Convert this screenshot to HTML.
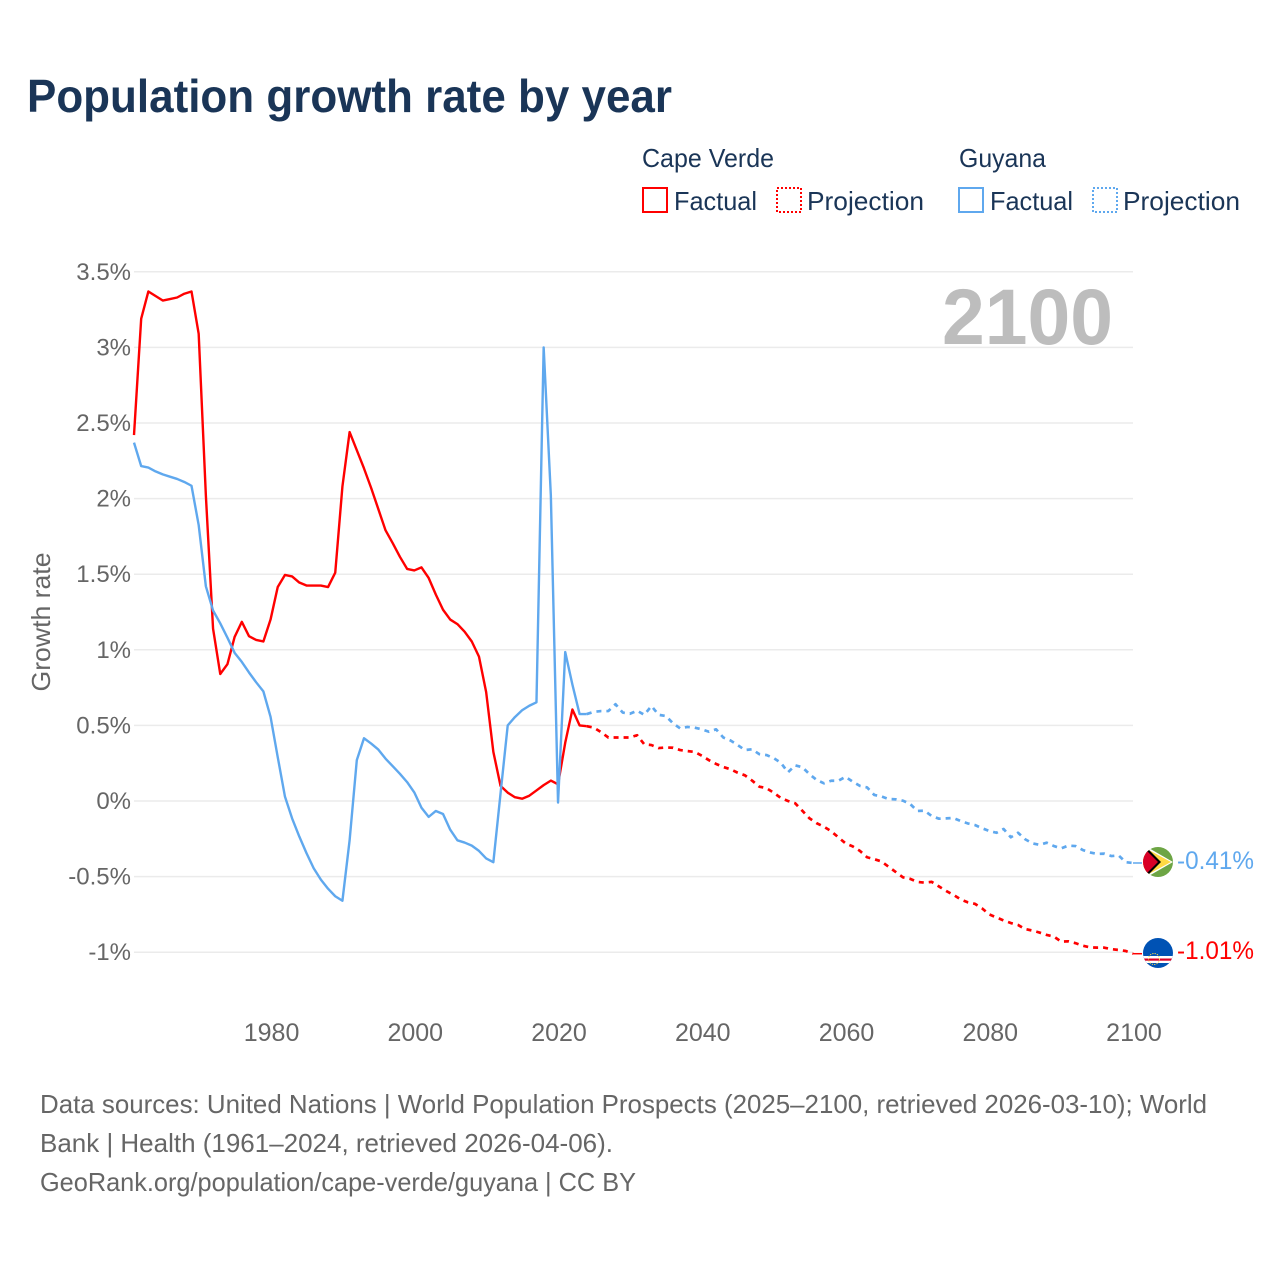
<!DOCTYPE html>
<html lang="en">
<head>
<meta charset="utf-8">
<title>Population growth rate by year</title>
<style>
  html, body { margin: 0; padding: 0; background: #ffffff; }
  svg { display: block; font-family: "Liberation Sans", sans-serif; }
</style>
</head>
<body>
<svg id="chart" xmlns="http://www.w3.org/2000/svg" width="1280" height="1280" viewBox="0 0 1280 1280">
  <defs>
    <clipPath id="clip-guyana"><circle cx="1158" cy="862" r="15"/></clipPath>
    <clipPath id="clip-cape"><circle cx="1158" cy="953" r="15"/></clipPath>
  </defs>
  <rect x="0" y="0" width="1280" height="1280" fill="#ffffff"/>

  <text x="27" y="112" font-size="46" font-weight="700" fill="#1a3557" textLength="645" lengthAdjust="spacingAndGlyphs">Population growth rate by year</text>

  <g font-size="26" fill="#1a3557">
    <text x="642" y="167" textLength="132" lengthAdjust="spacingAndGlyphs">Cape Verde</text>
    <rect x="643" y="188" width="24" height="24" fill="none" stroke="#ff0000" stroke-width="2"/>
    <text x="674" y="210" textLength="83" lengthAdjust="spacingAndGlyphs">Factual</text>
    <rect x="777" y="188" width="24" height="24" fill="none" stroke="#ff0000" stroke-width="2" stroke-dasharray="2 2"/>
    <text x="807" y="210" textLength="117" lengthAdjust="spacingAndGlyphs">Projection</text>

    <text x="959" y="167" textLength="87" lengthAdjust="spacingAndGlyphs">Guyana</text>
    <rect x="959" y="188" width="24" height="24" fill="none" stroke="#5fa8ee" stroke-width="2"/>
    <text x="990" y="210" textLength="83" lengthAdjust="spacingAndGlyphs">Factual</text>
    <rect x="1093" y="188" width="24" height="24" fill="none" stroke="#5fa8ee" stroke-width="2" stroke-dasharray="2 2"/>
    <text x="1123" y="210" textLength="117" lengthAdjust="spacingAndGlyphs">Projection</text>
  </g>

  <g id="grid"></g>
  <g id="y-ticks"></g>
  <g id="x-ticks"></g>

  <text transform="translate(50 622) rotate(-90)" text-anchor="middle" font-size="26" fill="#666666" textLength="139" lengthAdjust="spacingAndGlyphs">Growth rate</text>

  <text x="942" y="344" font-size="79" font-weight="700" fill="#bdbdbd" textLength="171" lengthAdjust="spacingAndGlyphs">2100</text>

  <g id="series"></g>

  <g clip-path="url(#clip-guyana)">
    <rect x="1143" y="847" width="30" height="30" fill="#6da544"/>
    <polygon points="1147,847 1173,862 1147,877" fill="#ffffff"/>
    <polygon points="1147,849 1171,862 1147,875 1143,875 1143,849" fill="#ffda44"/>
    <polygon points="1146,850 1149,850 1161,862 1149,874 1146,874" fill="#000000"/>
    <polygon points="1143,850 1147,851 1158,862 1147,873 1143,874" fill="#d80027"/>
  </g>
  <text x="1177" y="869" font-size="25" fill="#5fa8ee" textLength="77" lengthAdjust="spacingAndGlyphs">-0.41%</text>

  <g clip-path="url(#clip-cape)">
    <rect x="1143" y="938" width="30" height="30" fill="#0052b4"/>
    <rect x="1143" y="956" width="30" height="7" fill="#ffffff"/>
    <rect x="1143" y="958.5" width="30" height="2.2" fill="#d80027"/>
    <circle cx="1154" cy="959" r="5.5" fill="none" stroke="#ffda44" stroke-width="1" stroke-dasharray="1.2 1.2"/>
  </g>
  <text x="1177" y="959" font-size="25" fill="#ff0000" textLength="77" lengthAdjust="spacingAndGlyphs">-1.01%</text>

  <g font-size="26" fill="#666666">
    <text x="40" y="1113" textLength="1167" lengthAdjust="spacingAndGlyphs">Data sources: United Nations | World Population Prospects (2025–2100, retrieved 2026-03-10); World</text>
    <text x="40" y="1152" textLength="573" lengthAdjust="spacingAndGlyphs">Bank | Health (1961–2024, retrieved 2026-04-06).</text>
    <text x="40" y="1191" textLength="596" lengthAdjust="spacingAndGlyphs">GeoRank.org/population/cape-verde/guyana | CC BY</text>
  </g>
</svg>

<script>
const factualStartYear = 1961;
const projectionStartYear = 2025;
const xTickYears = [1980, 2000, 2020, 2040, 2060, 2080, 2100];
const yTickValues = [3.5, 3, 2.5, 2, 1.5, 1, 0.5, 0, -0.5, -1];
const yTickLabels = ["3.5%", "3%", "2.5%", "2%", "1.5%", "1%", "0.5%", "0%", "-0.5%", "-1%"];

const capeVerdeFactual = [
  2.42, 3.19, 3.37, 3.34, 3.31, 3.32, 3.33, 3.355, 3.37, 3.09,
  2.02, 1.14, 0.84, 0.905, 1.085, 1.185, 1.09, 1.065, 1.055, 1.2,
  1.415, 1.495, 1.485, 1.445, 1.425, 1.425, 1.425, 1.415, 1.51, 2.08,
  2.44, 2.32, 2.2, 2.07, 1.93, 1.79, 1.705, 1.615, 1.535, 1.525,
  1.545, 1.475, 1.365, 1.265, 1.2, 1.17, 1.12, 1.055, 0.955, 0.72,
  0.325, 0.1, 0.055, 0.025, 0.015, 0.035, 0.07, 0.105, 0.135, 0.11,
  0.385, 0.605, 0.5, 0.495
];
const capeVerdeProjection = [
  0.485, 0.455, 0.42, 0.42, 0.42, 0.42, 0.435, 0.375, 0.37, 0.35,
  0.354, 0.352, 0.337, 0.33, 0.325, 0.3, 0.27, 0.245, 0.225, 0.21,
  0.187, 0.17, 0.135, 0.095, 0.085, 0.055, 0.02, 0, -0.015, -0.065,
  -0.115, -0.147, -0.17, -0.2, -0.24, -0.28, -0.3, -0.33, -0.372, -0.385,
  -0.4, -0.435, -0.47, -0.505, -0.515, -0.535, -0.54, -0.535, -0.565, -0.595,
  -0.62, -0.65, -0.67, -0.68, -0.71, -0.75, -0.77, -0.79, -0.807, -0.82,
  -0.847, -0.857, -0.87, -0.886, -0.897, -0.93, -0.928, -0.94, -0.957, -0.968,
  -0.97, -0.97, -0.98, -0.985, -0.992, -1.01
];
const guyanaFactual = [
  2.37, 2.215, 2.205, 2.18, 2.16, 2.145, 2.13, 2.11, 2.085, 1.825,
  1.42, 1.26, 1.175, 1.08, 0.98, 0.92, 0.85, 0.785, 0.725, 0.557,
  0.29, 0.03, -0.115, -0.235, -0.345, -0.445, -0.52, -0.58, -0.63, -0.66,
  -0.26, 0.27, 0.415, 0.38, 0.34, 0.28, 0.23, 0.18, 0.125, 0.057,
  -0.045, -0.105, -0.066, -0.086, -0.19, -0.26, -0.275, -0.295, -0.33, -0.38,
  -0.405, 0.05, 0.5, 0.555, 0.6, 0.63, 0.653, 3.0, 2.02, -0.01,
  0.985, 0.77, 0.575, 0.575
];
const guyanaProjection = [
  0.59, 0.595, 0.595, 0.64, 0.585, 0.577, 0.597, 0.57, 0.628, 0.57,
  0.562, 0.514, 0.48, 0.49, 0.485, 0.474, 0.458, 0.474, 0.42, 0.4,
  0.37, 0.337, 0.342, 0.31, 0.304, 0.284, 0.253, 0.19, 0.236, 0.223,
  0.177, 0.139, 0.117, 0.134, 0.134, 0.16, 0.128, 0.1, 0.09, 0.04,
  0.03, 0.013, 0.011, 0.002, -0.02, -0.066, -0.064, -0.1, -0.117, -0.115,
  -0.112, -0.132, -0.148, -0.159, -0.18, -0.198, -0.21, -0.185, -0.24, -0.21,
  -0.253, -0.28, -0.29, -0.276, -0.298, -0.313, -0.295, -0.298, -0.324, -0.34,
  -0.35, -0.348, -0.364, -0.36, -0.405, -0.41
];

function xScale(year) { return 134 + (year - 1961) * 7.187; }
function yScale(value) { return 801 - value * 151.2; }

const SVG_NS = "http://www.w3.org/2000/svg";
function make(tag, parent, attrs) {
  const el = document.createElementNS(SVG_NS, tag);
  for (const key in attrs) el.setAttribute(key, attrs[key]);
  parent.appendChild(el);
  return el;
}

const gridGroup = document.getElementById("grid");
const yTickGroup = document.getElementById("y-ticks");
const xTickGroup = document.getElementById("x-ticks");
const seriesGroup = document.getElementById("series");

yTickValues.forEach(function (value, i) {
  const gridline = make("line", gridGroup, { x1: 134, x2: 1133, y1: yScale(value), y2: yScale(value), stroke: "#ebebeb", "stroke-width": 1.5 });
  
  
  const label = make("text", yTickGroup, { x: 131, y: yScale(value) + 8, "text-anchor": "end", "font-size": 24, fill: "#666666" });
  label.textContent = yTickLabels[i];
  
  
});

xTickYears.forEach(function (year) {
  const label = make("text", xTickGroup, { x: xScale(year) + 1, y: 1041, "text-anchor": "middle", "font-size": 25, fill: "#666666" });
  label.textContent = String(year);
  
  
});

function pathFrom(startYear, values) {
  return values.map(function (v, i) {
    return (i ? "L" : "M") + xScale(startYear + i).toFixed(2) + " " + yScale(v).toFixed(2);
  }).join(" ");
}

function drawProjection(factual, projection, color) {
  const joined = [factual[factual.length - 1]].concat(projection);
  const line = make("path", seriesGroup, {
    d: pathFrom(projectionStartYear - 1, joined),
    fill: "none", stroke: color, "stroke-width": 2.7,
    "stroke-dasharray": "5 5", "stroke-linejoin": "round"
  });
  return line;
}

function drawFactual(factual, color) {
  return make("path", seriesGroup, {
    d: pathFrom(factualStartYear, factual),
    fill: "none", stroke: color, "stroke-width": 2.4, "stroke-linejoin": "round"
  });
}

function drawConnector(projection, color) {
  const lastValue = projection[projection.length - 1];
  return make("line", seriesGroup, {
    x1: xScale(2100), x2: xScale(2100) + 9, y1: yScale(lastValue), y2: yScale(lastValue),
    stroke: color, "stroke-width": 1.5
  });
}

const guyanaFactualLine = drawFactual(guyanaFactual, "#5fa8ee");



const guyanaProjectionLine = drawProjection(guyanaFactual, guyanaProjection, "#5fa8ee");



const guyanaConnector = drawConnector(guyanaProjection, "#5fa8ee");



const capeFactualLine = drawFactual(capeVerdeFactual, "#ff0000");



const capeProjectionLine = drawProjection(capeVerdeFactual, capeVerdeProjection, "#ff0000");



const capeConnector = drawConnector(capeVerdeProjection, "#ff0000");



// The blue factual line sits on top of red around the 2018-2021 spike.
seriesGroup.appendChild(guyanaFactualLine);
</script>
</body>
</html>
